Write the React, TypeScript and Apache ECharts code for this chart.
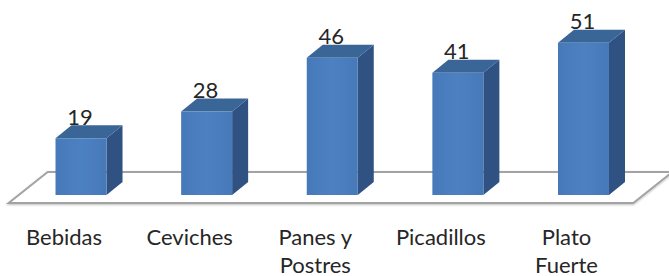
import React, { useEffect, useRef } from "react";
import * as echarts from "echarts";

const categories = ["Bebidas", "Ceviches", "Panes y\nPostres", "Picadillos", "Plato\nFuerte"];
const values = [19, 28, 46, 41, 51];

const FONT = "Lato, 'Open Sans', sans-serif";

export default function App() {
  const ref = useRef<HTMLDivElement>(null);
  useEffect(() => {
    if (!ref.current) return;
    const chart = echarts.init(ref.current, undefined, { renderer: "svg" });
    const option: any = {
      animation: false,
      backgroundColor: "#ffffff",
      grid: { left: 18.2, right: 22.7, top: 16, bottom: 81 },
      xAxis: {
        type: "category",
        data: categories,
        show: false,
      },
      yAxis: { type: "value", min: 0, max: 60, show: false },
      series: [
        {
          type: "custom",
          z: 1,
          silent: true,
          data: [[0, 0]],
          renderItem: (params: any, api: any) => {
            const cs = params.coordSys;
            const L = cs.x;
            const R = cs.x + cs.width;
            const base = api.coord([0, 0])[1];
            const pts = [
              [L - 9.5, base + 8],
              [L + 29.5, base - 23],
              [R + 26, base - 23],
              [R - 13, base + 8],
            ];
            return {
              type: "polygon",
              shape: { points: pts },
              style: {
                fill: "#ffffff",
                stroke: "#a3a3a3",
                lineWidth: 2,
                shadowBlur: 2,
                shadowColor: "rgba(0,0,0,0.25)",
                shadowOffsetY: 1,
              },
            };
          },
        },
        {
          type: "custom",
          z: 2,
          data: values.map((v, i) => [i, v]),
          renderItem: (params: any, api: any) => {
            const i = api.value(0);
            const v = api.value(1);
            const top = api.coord([i, v]);
            const bot = api.coord([i, 0]);
            const band = api.size([1, 0])[0];
            const bw = band * 0.406;
            const dx = bw * 0.314;
            const dy = bw * 0.255;
            const cx = top[0];
            const x0 = cx - bw / 2;
            const x1 = cx + bw / 2;
            const yT = top[1];
            const yB = bot[1];
            return {
              type: "group",
              children: [
                {
                  type: "polygon",
                  shape: { points: [[x1, yT], [x1 + dx, yT - dy], [x1 + dx, yB - dy], [x1, yB]] },
                  style: { fill: "#2f5283" },
                },
                {
                  type: "polygon",
                  shape: { points: [[x0, yT], [x0 + dx, yT - dy], [x1 + dx, yT - dy], [x1, yT]] },
                  style: { fill: "#3a6597" },
                },
                {
                  type: "rect",
                  shape: { x: x0, y: yT, width: bw, height: yB - yT },
                  style: {
                    fill: new echarts.graphic.LinearGradient(0, 0, 1, 0, [
                      { offset: 0, color: "#4779b9" },
                      { offset: 0.5, color: "#4c81c1" },
                      { offset: 1, color: "#4779b9" },
                    ]),
                  },
                },
                {
                  type: "text",
                  x: cx - 1,
                  y: yT - 22,
                  style: {
                    text: String(values[i]),
                    fill: "#262626",
                    font: `22px ${FONT}`,
                    align: "center",
                    verticalAlign: "middle",
                  },
                },
                {
                  type: "text",
                  x: cx - 17,
                  y: yB + 27,
                  style: {
                    text: categories[i],
                    fill: "#262626",
                    font: `22px ${FONT}`,
                    align: "center",
                    verticalAlign: "top",
                    lineHeight: 28,
                  },
                },
              ],
            };
          },
        },
      ],
    };
    chart.setOption(option);
    return () => chart.dispose();
  }, []);
  return (
    <div
      ref={ref}
      style={{ position: "fixed", left: 0, top: 0, width: 669, height: 276, background: "#fff" }}
    />
  );
}
